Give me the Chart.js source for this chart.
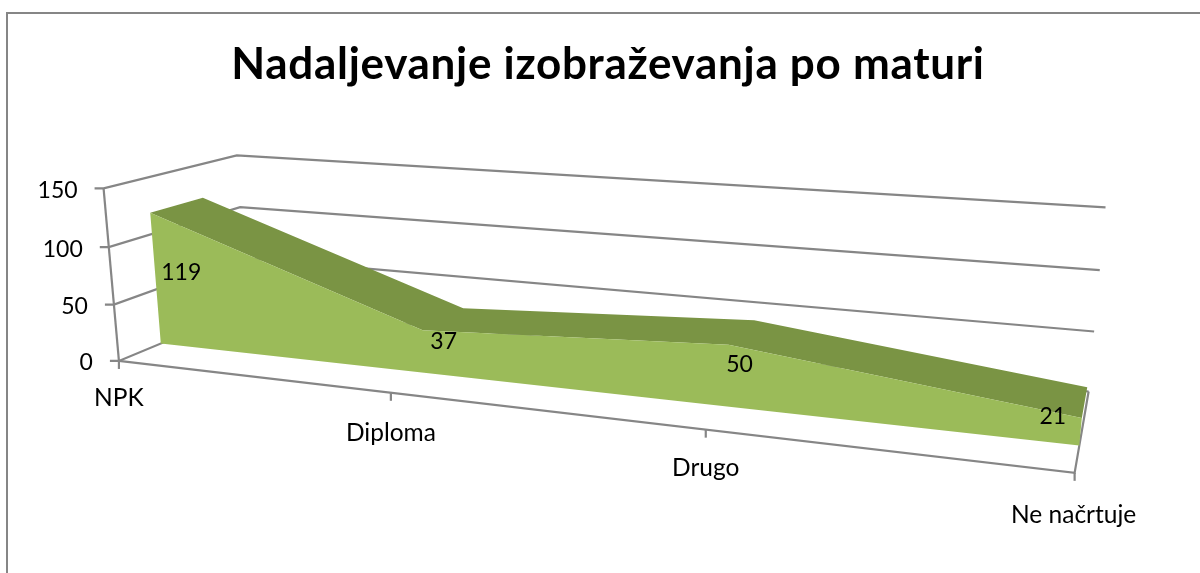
<!DOCTYPE html>
<html>
<head>
<meta charset="utf-8">
<title>Nadaljevanje izobraževanja po maturi</title>
<script src="https://cdn.jsdelivr.net/npm/chart.js@4"></script>
<style>
  html, body { margin: 0; background: #fff; overflow: hidden; }
  #frame { position: absolute; left: 6px; top: 12px; right: 0; bottom: 0; border-left: 2px solid #868686; border-top: 2px solid #868686; }
  canvas { position: absolute; left: 0; top: 0; }
</style>
</head>
<body>
<div id="frame"></div>
<canvas id="chart" width="1200" height="573"></canvas>
<script>
const chartTitle = 'Nadaljevanje izobraževanja po maturi';
const categories = ['NPK', 'Diploma', 'Drugo', 'Ne načrtuje'];
const values = [119, 37, 50, 21];
const yMax = 150;
const yStep = 50;

// Where the area slab sits between the front edge and back wall of the box
const slabFront = 0.3;
const slabBack = 0.7;

// Perspective camera, fitted to the reference: (u, v, w) in the box -> screen
const camX = [735.92763, -18.56745, 161.86329, 118.92317];
const camY = [15.17571, -178.44027, -10.51077, 360.96136];
const camW = [-0.20451, -0.03108, 0.13846, 1];

// Excel places its labels by hand-ish rules, so these are small offsets in px
const valueLabelNudge = [[31, 60], [21, 11], [11, 20], [-29, -1]];
const categoryLabelNudge = [[0, 37], [0, 40], [0, 38], [-1, 42]];

function toScreen(u, v, w) {
  const dot = (m) => m[0] * u + m[1] * v + m[2] * w + m[3];
  const d = dot(camW);
  return [dot(camX) / d, dot(camY) / d];
}

// Takes a pixel from the flat chart area and puts it on the tilted box
function project(chart, px, py, w) {
  const area = chart.chartArea;
  return toScreen((px - area.left) / area.width, (area.bottom - py) / area.height, w);
}

const frontFace = [
  ...categories.map((c, i) => ({ x: c, y: values[i] })),
  ...categories.map(c => ({ x: c, y: 0 })).reverse()
];
const frontDepths = frontFace.map(() => slabFront);
const topFace = [
  ...categories.map((c, i) => ({ x: c, y: values[i] })),
  ...categories.map((c, i) => ({ x: c, y: values[i] })).reverse()
];
const topDepths = topFace.map((_, i) => (i < categories.length ? slabBack : slabFront));

const tiltPlugin = {
  id: 'tilt',
  afterDatasetsUpdate(chart) {
    chart.data.datasets.forEach((ds, d) => {
      chart.getDatasetMeta(d).data.forEach((el, i) => {
        const [x, y] = project(chart, el.x, el.y, ds.depths[i]);
        el.x = x;
        el.y = y;
      });
    });
  },
  beforeDraw(chart) {
    chart.ctx.letterSpacing = '0.7px'; // only the title is drawn before the datasets
  },
  beforeDatasetsDraw(chart) {
    const { ctx, scales } = chart;
    const xs = scales.x;
    const ys = scales.y;
    const left = chart.chartArea.left;
    const right = chart.chartArea.right;
    const base = ys.getPixelForValue(0);
    const line = (pts) => {
      ctx.beginPath();
      pts.forEach((p, i) => (i ? ctx.lineTo(p[0], p[1]) : ctx.moveTo(p[0], p[1])));
      ctx.stroke();
    };
    ctx.letterSpacing = '0px';
    ctx.save();
    ctx.strokeStyle = '#868686';
    ctx.lineWidth = 2.2;
    ctx.fillStyle = '#000';
    ys.ticks.forEach(t => {
      const py = ys.getPixelForValue(t.value);
      const a = project(chart, left, py, 0);
      line([[a[0] - 9, a[1]], a, project(chart, left, py, 1), project(chart, right, py, 1)]);
      ctx.font = '23px Lato';
      ctx.textAlign = 'right';
      ctx.textBaseline = 'middle';
      ctx.fillText(t.label, a[0] - 26, a[1] + 2);
    });
    line([project(chart, left, ys.top, 0), project(chart, left, base, 0)]);
    line([project(chart, left, base, 0), project(chart, right, base, 0), project(chart, right, base, 1)]);
    xs.ticks.forEach((t, i) => {
      const a = project(chart, xs.getPixelForTick(i), base, 0);
      line([a, [a[0], a[1] + 8]]);
      ctx.font = '24.5px Lato';
      ctx.textAlign = 'center';
      ctx.fillText(t.label, a[0] + categoryLabelNudge[i][0], a[1] + categoryLabelNudge[i][1]);
    });
    ctx.restore();
  },
  afterDatasetsDraw(chart) {
    const { ctx, scales } = chart;
    ctx.save();
    ctx.fillStyle = '#000';
    ctx.font = '23px Lato';
    ctx.textAlign = 'center';
    ctx.textBaseline = 'middle';
    values.forEach((v, i) => {
      const a = project(chart, scales.x.getPixelForValue(i), scales.y.getPixelForValue(v), slabFront);
      ctx.fillText(String(v), a[0] + valueLabelNudge[i][0], a[1] + valueLabelNudge[i][1]);
    });
    ctx.restore();
  }
};

new Chart(document.getElementById('chart'), {
  type: 'line',
  data: {
    labels: categories,
    datasets: [
      { data: frontFace, depths: frontDepths, fill: 'shape', backgroundColor: '#9BBB59', borderWidth: 0, pointRadius: 0, clip: false },
      { data: topFace, depths: topDepths, fill: 'shape', backgroundColor: '#7A9444', borderWidth: 0, pointRadius: 0, clip: false }
    ]
  },
  options: {
    responsive: false,
    animation: false,
    layout: { padding: { left: 16 } },
    plugins: {
      legend: { display: false },
      tooltip: { enabled: false },
      title: {
        display: true,
        text: chartTitle,
        color: '#000',
        font: { family: 'Lato', size: 44, weight: 'bold' },
        padding: { top: 38, bottom: 11 }
      }
    },
    scales: {
      x: { display: false, ticks: { autoSkip: false } },
      y: { display: false, min: 0, max: yMax, ticks: { stepSize: yStep } }
    }
  },
  plugins: [tiltPlugin]
});
</script>
</body>
</html>
